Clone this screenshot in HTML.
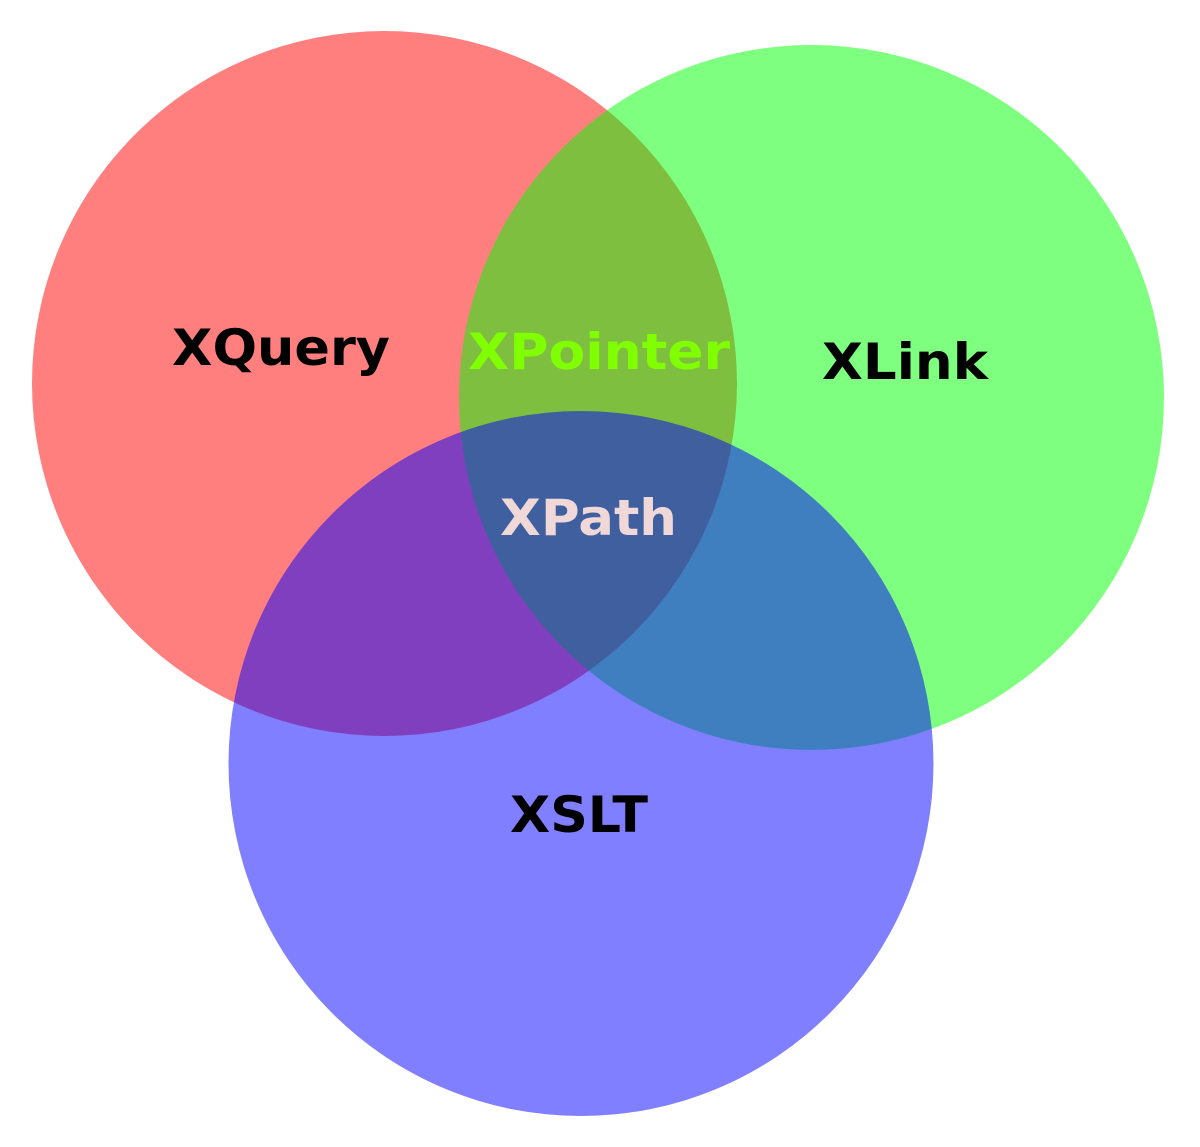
<!DOCTYPE html>
<html><head><meta charset="utf-8"><style>html,body{margin:0;padding:0;background:#fff}svg{display:block}</style></head>
<body>
<svg width="1200" height="1147" viewBox="0 0 1200 1147" xmlns="http://www.w3.org/2000/svg">
<rect width="1200" height="1147" fill="#fff"/>
<circle cx="384.5" cy="383.5" r="352.5" fill="#ff0000" fill-opacity="0.5"/>
<circle cx="811.5" cy="397.5" r="352.5" fill="#00ff00" fill-opacity="0.5"/>
<circle cx="581" cy="763.5" r="352.5" fill="#0000ff" fill-opacity="0.5"/>
<g font-family="'DejaVu Sans', 'Liberation Sans', sans-serif" font-weight="bold" font-size="50">
<text x="172" y="365" textLength="218" lengthAdjust="spacingAndGlyphs" fill="#000">XQuery</text>
<text x="468" y="369" textLength="262" lengthAdjust="spacingAndGlyphs" fill="#80ff00">XPointer</text>
<text x="822" y="379" textLength="166" lengthAdjust="spacingAndGlyphs" fill="#000">XLink</text>
<text x="500" y="535" textLength="177" lengthAdjust="spacingAndGlyphs" fill="#f0d8d8">XPath</text>
<text x="510" y="832" textLength="138" lengthAdjust="spacingAndGlyphs" fill="#000">XSLT</text>
</g>
</svg>
</body></html>
